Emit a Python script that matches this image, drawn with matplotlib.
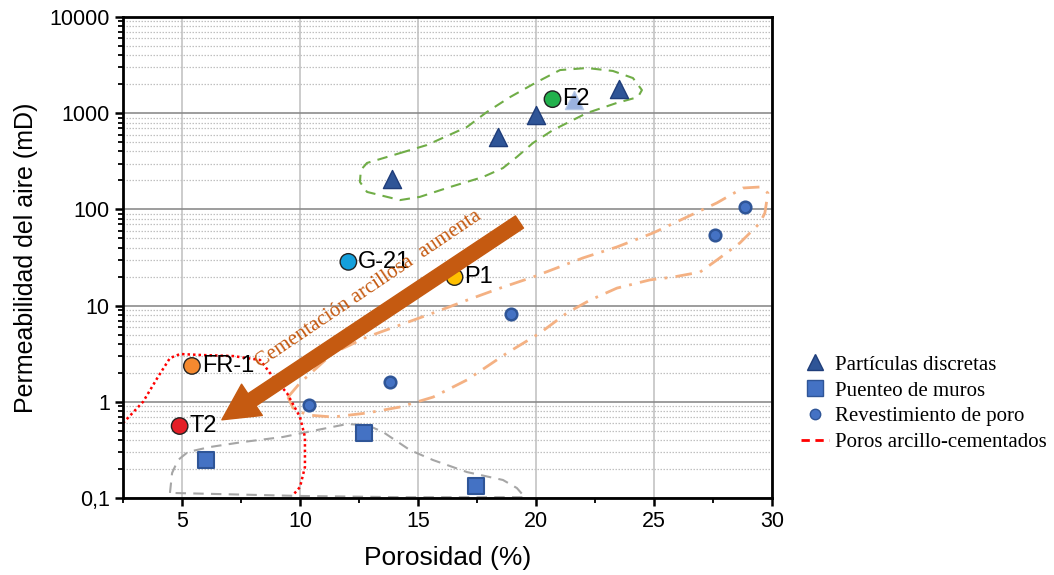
import matplotlib
matplotlib.use("Agg")
import matplotlib.pyplot as plt
from matplotlib.lines import Line2D
from matplotlib.ticker import FixedLocator, LogLocator, FuncFormatter, MultipleLocator

plt.rcParams['font.family'] = ['Liberation Sans', 'DejaVu Sans']

# ---------------- data ----------------
tri_x = [13.9, 18.4, 20.0, 23.5]
tri_y = [205, 570, 960, 1770]
tri_light_x = [21.6]
tri_light_y = [1380]

sq_x = [6.0, 12.7, 17.45]
sq_y = [0.25, 0.47, 0.133]

circ_x = [10.4, 13.8, 18.95, 27.6, 28.85]
circ_y = [0.93, 1.6, 8.2, 54, 106]

lab_names = ["G-21", "P1", "F2", "FR-1", "T2"]
lab_x = [12.05, 16.55, 20.7, 5.42, 4.9]
lab_y = [28.5, 19.8, 1400, 2.36, 0.56]
lab_colors = ["#14A0DC", "#FFC000", "#22B14C", "#F4892F", "#E41E26"]

# envelopes (porosity %, permeability mD)
green_x = [14.24, 15.38, 17.08, 17.92, 18.90, 20.04, 21.02, 22.16, 23.26, 24.11, 24.49, 24.32,
           23.43, 22.16, 21.57, 20.72, 19.87, 19.19, 18.60, 17.75, 16.36, 15.08, 14.24, 12.84,
           12.54, 12.58, 12.84, 14.24]
green_y = [385, 467, 720, 1030, 1470, 2110, 2810, 2950, 2750, 2320, 1740, 1470,
           1280, 1005, 850, 668, 490, 351, 269, 217, 171, 135, 125, 152,
           193, 257, 304, 385]

gray_x = [4.49, 4.58, 4.83, 5.25, 6.19, 7.58, 9.28, 10.72, 11.99, 12.84, 13.52, 14.66, 15.64,
          17.08, 18.60, 19.19, 19.53, 14.24, 10.0, 4.49]
gray_y = [0.113, 0.182, 0.248, 0.301, 0.339, 0.382, 0.431, 0.509, 0.587, 0.574, 0.485, 0.315,
          0.248, 0.186, 0.154, 0.127, 0.102, 0.102, 0.105, 0.113]

red_x = [2.5, 3.35, 3.98, 4.49, 4.92, 5.76, 7.16, 8.31, 8.86, 9.45, 10.0, 10.21, 10.21, 10.0, 9.70]
red_y = [0.60, 1.0, 1.81, 2.85, 3.14, 3.07, 2.99, 2.72, 1.81, 1.23, 0.695, 0.431, 0.210, 0.130, 0.107]

orange_x = [9.49, 10.0, 11.40, 12.84, 14.24, 15.64, 17.08, 18.48, 19.87, 21.99, 23.43, 24.96,
            26.40, 27.67, 28.77, 29.49, 29.83, 29.70, 29.49, 28.64, 27.67, 26.95, 25.81, 24.83,
            23.43, 22.29, 21.31, 20.17, 18.77, 17.08, 15.64, 14.24, 12.84, 11.40, 10.30, 9.70, 9.49]
orange_y = [1.12, 1.57, 3.21, 4.72, 6.29, 8.38, 11.4, 15.2, 19.8, 31.3, 40.7, 56.9,
            83.4, 117, 167, 171, 148, 91.9, 72.3, 44.8, 29.8, 22.3, 19.8, 18.5,
            15.2, 11.4, 8.38, 5.19, 3.21, 1.69, 1.12, 0.883, 0.765, 0.695, 0.729, 0.863, 1.12]

arrow_start = (19.3, 74)
arrow_end = (6.69, 0.65)
arrow_text = "Cementación arcillosa  aumenta"
arrow_text_pos = (12.9, 14.9)

x_ticks = [5, 10, 15, 20, 25, 30]
y_ticks = [0.1, 1, 10, 100, 1000, 10000]
y_ticklabels = ["0,1", "1", "10", "100", "1000", "10000"]

legend_labels = ["Partículas discretas", "Puenteo de muros", "Revestimiento de poro",
                 "Poros arcillo-cementados"]

# ---------------- figure ----------------
fig = plt.figure(figsize=(10.54, 5.75), dpi=100)
ax = fig.add_axes([0.1167, 0.1339, 0.6157, 0.8365])
ax.set_xscale('linear')
ax.set_yscale('log')
ax.set_xlim(2.5, 30)
ax.set_ylim(0.1, 10000)

# grids
ax.xaxis.set_major_locator(FixedLocator(x_ticks))
ax.xaxis.set_minor_locator(MultipleLocator(2.5))
ax.yaxis.set_major_locator(FixedLocator(y_ticks))
ax.yaxis.set_minor_locator(LogLocator(base=10, subs=range(2, 10), numticks=20))
ax.yaxis.set_major_formatter(FuncFormatter(lambda v, p: y_ticklabels[y_ticks.index(v)] if v in y_ticks else ""))
ax.yaxis.set_minor_formatter(FuncFormatter(lambda v, p: ""))

ax.grid(axis='x', which='major', color='#C8C8C8', linewidth=1.3, zorder=0)
ax.grid(axis='y', which='major', color='#8C8C8C', linewidth=1.2, zorder=0)
ax.grid(axis='y', which='minor', color='#C0C0C0', linewidth=0.9, linestyle=(0, (1.2, 1.2)), zorder=0)
ax.set_axisbelow(True)

for s in ax.spines.values():
    s.set_linewidth(2.0)
    s.set_color('black')

ax.tick_params(axis='both', which='major', direction='out', length=6, width=1.8, labelsize=15.5)
ax.tick_params(axis='both', which='minor', direction='out', length=3.5, width=1.3)

# envelopes
ax.plot(green_x, green_y, color='#70AD47', linestyle=(0, (5, 3.5)), linewidth=1.5, zorder=2)
ax.plot(gray_x, gray_y, color='#A6A6A6', linestyle=(0, (5, 3.5)), linewidth=1.5, zorder=2)
ax.plot(orange_x, orange_y, color='#F4B183', linestyle=(0, (6, 3, 1, 3)), linewidth=2.0, zorder=2)
ax.plot(red_x, red_y, color='#FF0000', linestyle=(0, (1, 1.2)), linewidth=1.8, zorder=2)

# points
ax.scatter(tri_x, tri_y, marker='^', s=170, color='#2F5597', edgecolor='#1F3D7A', linewidth=1.0, zorder=4)
ax.scatter(tri_light_x, tri_light_y, marker='^', s=170, color='#8FAADC', edgecolor='#B4C7E7',
           linewidth=1.0, alpha=0.9, zorder=5)
ax.scatter(sq_x, sq_y, marker='s', s=140, color='#4472C4', edgecolor='#2F5597', linewidth=1.5, zorder=4)
ax.scatter(circ_x, circ_y, marker='o', s=70, color='#4472C4', edgecolor='#2F5597', linewidth=1.8, zorder=4)
ax.scatter(lab_x, lab_y, marker='o', s=140, c=lab_colors, edgecolor='#222222', linewidth=1.0, zorder=6)
for name, x, y in zip(lab_names, lab_x, lab_y):
    ax.annotate(name, (x, y), xytext=(7.0, 0), textcoords='offset points', ha='left', va='center',
                fontsize=17, color='black', zorder=7)

# arrow
ax.annotate("", xy=arrow_end, xytext=arrow_start,
            arrowprops=dict(arrowstyle='simple,tail_width=1.05,head_width=2.7,head_length=2.6',
                            mutation_scale=10, color='#C55A11', shrinkA=0, shrinkB=0), zorder=8)
ax.text(arrow_text_pos[0], arrow_text_pos[1], arrow_text, rotation=34, rotation_mode='anchor',
        ha='center', va='center', color='#C55A11', fontsize=15, family=['Liberation Serif'], zorder=9)

ax.set_xlabel("Porosidad (%)", fontsize=19, labelpad=10)
ax.set_ylabel("Permeabilidad del aire (mD)", fontsize=18, labelpad=8)

# legend
handles = [
    Line2D([], [], marker='^', linestyle='none', markersize=12, color='#2F5597', markeredgecolor='#1F3D7A'),
    Line2D([], [], marker='s', linestyle='none', markersize=11, color='#4472C4', markeredgecolor='#2F5597'),
    Line2D([], [], marker='o', linestyle='none', markersize=7.5, color='#4472C4', markeredgecolor='#2F5597'),
    Line2D([], [], color='#FF0000', linestyle=(0, (3, 2)), linewidth=2),
]
fig.legend(handles, legend_labels, loc='upper left', bbox_to_anchor=(0.742, 0.415), frameon=False,
           prop={'family': 'Liberation Serif', 'size': 15}, handlelength=1.35, handletextpad=0.3,
           labelspacing=0.3, borderpad=0.4)

fig.savefig("out.png", dpi=100)
